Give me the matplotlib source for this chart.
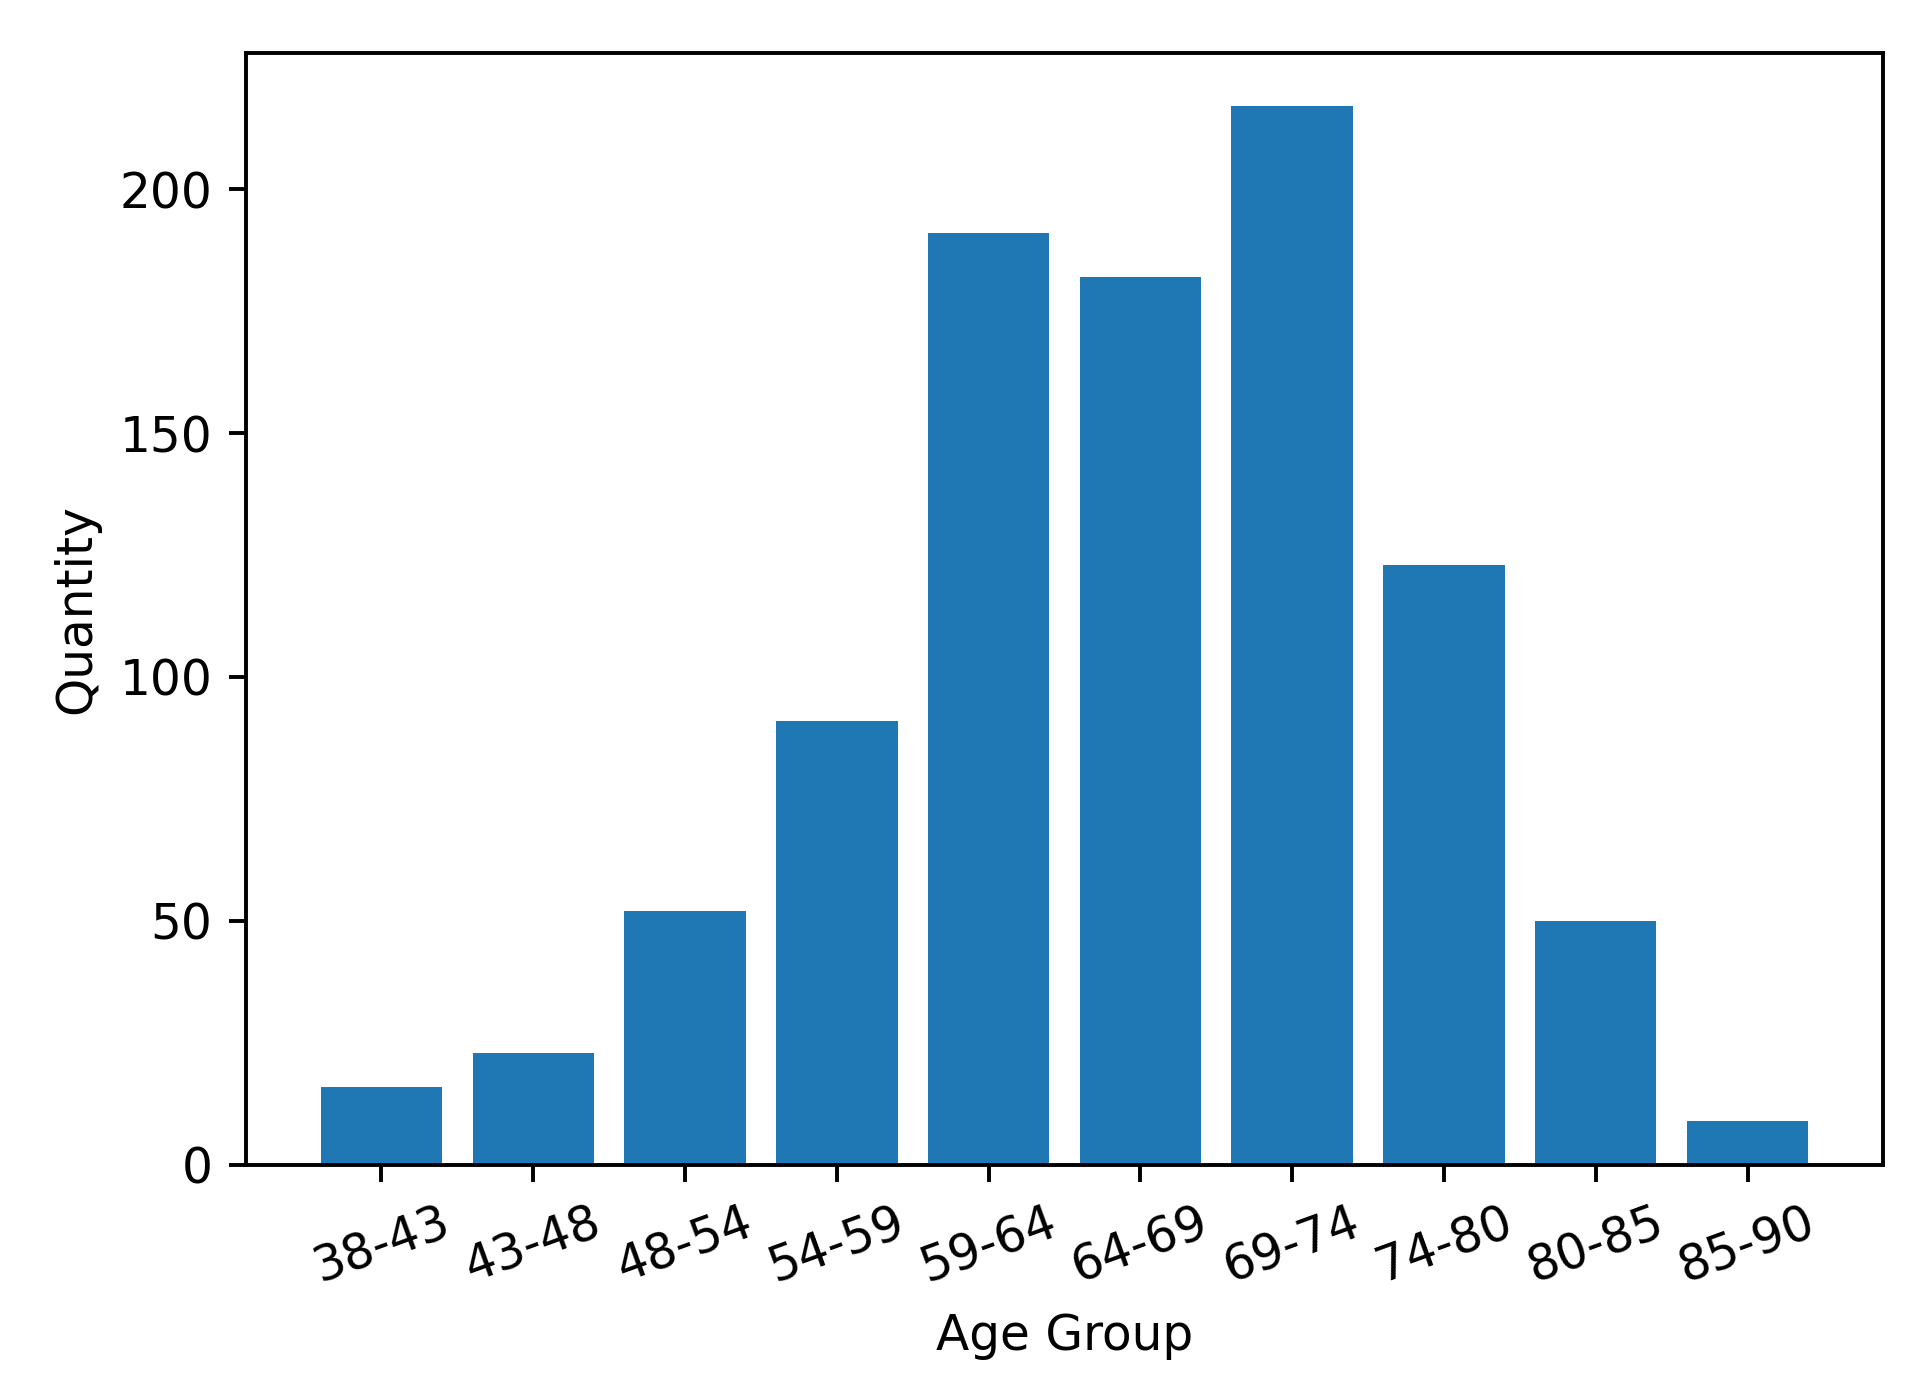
import matplotlib
matplotlib.use("Agg")
import matplotlib.pyplot as plt

# Age groups and counts.
age_groups = ["38-43", "43-48", "48-54", "54-59", "59-64",
              "64-69", "69-74", "74-80", "80-85", "85-90"]
quantity = [16, 23, 52, 91, 191, 182, 217, 123, 50, 9]

fig = plt.figure(figsize=(5.5, 4), dpi=350)
ax = fig.add_axes([0.128, 0.168, 0.85, 0.794])
ax.bar(age_groups, quantity, color="#1f77b4")
ax.set_xlabel("Age Group")
ax.set_ylabel("Quantity")
plt.xticks(rotation=20)
fig.savefig("out.png", dpi=350)
